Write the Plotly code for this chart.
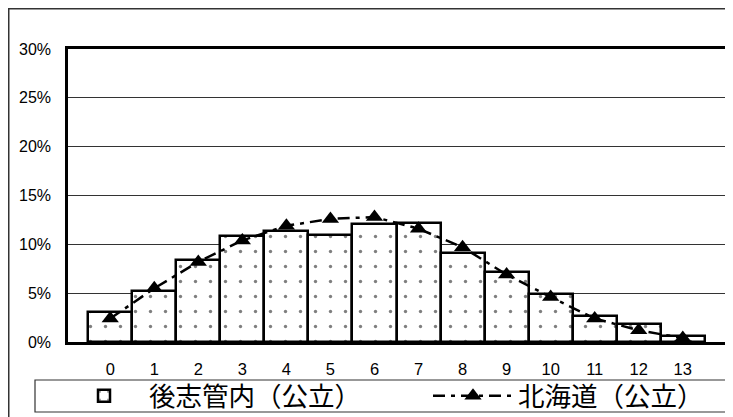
import plotly.graph_objects as go

categories = [str(i) for i in range(14)]
shiribeshi = [0.031, 0.052, 0.084, 0.109, 0.114, 0.110, 0.121, 0.122, 0.091, 0.072, 0.049, 0.027, 0.018, 0.006]
hokkaido = [0.024, 0.055, 0.082, 0.104, 0.119, 0.126, 0.128, 0.116, 0.097, 0.069, 0.046, 0.024, 0.012, 0.004]
name_bar = "後志管内（公立）"
name_line = "北海道（公立）"

# page has an 8px body margin; figure coordinates = screenshot coordinates - OFF
OFF = 8
W, H = 733, 417
L, R, T, B = 68 - OFF, 725 - OFF, 49 - OFF, 342 - OFF
pw, ph = R - L, B - T

def px(sx):
    return (sx - OFF - L) / pw

def py(sy):
    return (B - (sy - OFF)) / ph

fig = go.Figure()
fig.add_trace(go.Bar(
    x=categories, y=shiribeshi, name=name_bar, legendwidth=274,
    marker=dict(color="white", line=dict(color="black", width=2.5),
                pattern=dict(shape=".", fgcolor="black", bgcolor="white", size=15, solidity=0.04)),
))
fig.add_trace(go.Scatter(
    x=categories, y=hokkaido, name=name_line, mode="lines+markers", legendwidth=200,
    line=dict(color="black", width=2.5, dash="12px,6px,4px,6px"),
    marker=dict(symbol="triangle-up", size=15, color="black"),
))

fig.update_layout(
    width=W, height=H,
    margin=dict(l=L, r=W - R, t=T, b=H - B, autoexpand=False),
    paper_bgcolor="white", plot_bgcolor="white",
    bargap=0,
    font=dict(family="Liberation Sans, Arial", color="black", size=16),
    xaxis=dict(type="category", showgrid=False, ticks="", tickfont=dict(size=16.5),
               ticklabelstandoff=10,
               showline=True, linecolor="black", linewidth=2.5, mirror=True, automargin=False),
    yaxis=dict(range=[0, 0.30], dtick=0.05, tickformat=".0%", showgrid=True,
               gridcolor="#333333", gridwidth=1, zeroline=False, ticks="",
               tickfont=dict(size=16), automargin=False, ticklabelstandoff=11,
               showline=True, linecolor="black", linewidth=2.5, mirror=True),
    legend=dict(orientation="h", x=px(59), y=py(396), xanchor="left", yanchor="middle",
                bgcolor="rgba(0,0,0,0)",
                font=dict(family="Noto Sans CJK JP", size=26.5), itemwidth=80,
                traceorder="normal"),
    shapes=[
        dict(type="rect", xref="paper", yref="paper", x0=px(8.75), x1=px(780), y0=py(8.75), y1=py(460),
             line=dict(color="#333333", width=1.5), layer="below"),
        dict(type="rect", xref="paper", yref="paper", x0=px(35), x1=px(780), y0=py(412), y1=py(380),
             line=dict(color="#333333", width=1.2), layer="below"),
    ],
)
fig.write_html("out.html")
